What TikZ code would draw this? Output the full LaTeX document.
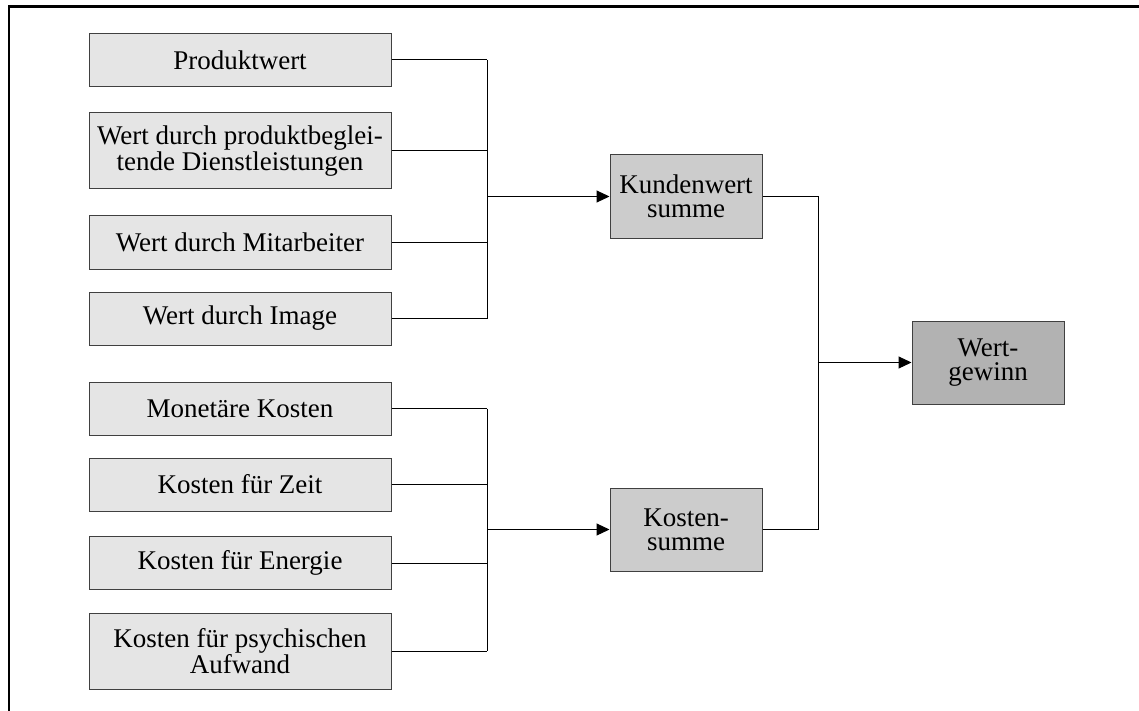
\documentclass[tikz,border=0pt]{standalone}
\usepackage{fontspec}
\setmainfont{Liberation Serif}
\usetikzlibrary{arrows.meta}
\begin{document}
\begin{tikzpicture}[x=1pt,y=-1pt,
  box/.style={draw=black!75, line width=1pt, align=center, inner sep=0pt,
    font=\fontsize{27}{24}\selectfont},
  inbox/.style={box, fill=black!10, minimum width=302pt, minimum height=53pt},
  tallbox/.style={inbox, minimum height=76pt},
  sumbox/.style={box, fill=black!20, minimum width=152pt, minimum height=83pt},
  resbox/.style={box, fill=black!30, minimum width=152pt, minimum height=83pt},
  link/.style={line width=1pt},
  arr/.style={link, -{Triangle[length=13pt,width=12pt]}}]
\useasboundingbox (0,0) rectangle (1139,711);
% frame (top and left edges)
\draw[line width=2.5pt] (9,711) -- (9,6.5) -- (1139,6.5);

% value components
\node[inbox]   (p1) at (240,60)    {Produktwert};
\node[tallbox] (p2) at (240,151)   {Wert durch produktbeglei-\\tende Dienstleistungen};
\node[inbox]   (p3) at (240,242.5) {Wert durch Mitarbeiter};
\node[inbox]   (p4) at (240,318.5) {Wert durch Image};

% cost components
\node[inbox]   (k1) at (240,408.5) {Monetäre Kosten};
\node[inbox]   (k2) at (240,484.5) {Kosten für Zeit};
\node[inbox]   (k3) at (240,563)   {Kosten für Energie};
\node[tallbox] (k4) at (240,651)   {Kosten für psychischen\\Aufwand};

% sums and result
\node[sumbox] (kw) at (686,196.5) {Kundenwert\\summe};
\node[sumbox] (ks) at (686,529.5) {Kosten-\\summe};
\node[resbox] (wg) at (988,362.5) {Wert-\\gewinn};

% bus junctions
\coordinate (ba) at (487,196.5);
\coordinate (bb) at (487,529.5);
\coordinate (bc) at (818,362.5);

% value bus
\foreach \n in {p1,p2,p3,p4} \draw[link] (\n.east) -- (\n.east -| ba);
\draw[link] (p1.east -| ba) -- (p4.east -| ba);
\draw[arr] (ba) -- (kw.west);

% cost bus
\foreach \n in {k1,k2,k3,k4} \draw[link] (\n.east) -- (\n.east -| bb);
\draw[link] (k1.east -| bb) -- (k4.east -| bb);
\draw[arr] (bb) -- (ks.west);

% result bus
\draw[link] (kw.east) -- (kw.east -| bc);
\draw[link] (ks.east) -- (ks.east -| bc);
\draw[link] (kw.east -| bc) -- (ks.east -| bc);
\draw[arr] (bc) -- (wg.west);
\end{tikzpicture}
\end{document}
